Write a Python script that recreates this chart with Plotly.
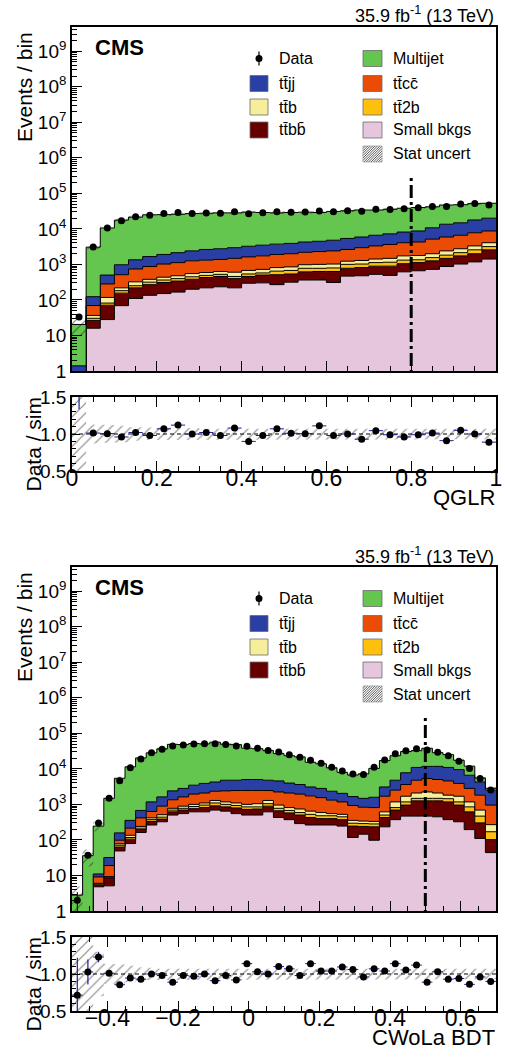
import numpy as np
import plotly.graph_objects as go

FONT = "Liberation Sans, Arial, Helvetica, sans-serif"
W, H = 505, 1057
ML, MR, MT, MB = 72, 9, 27, 46
PW, PH = W - ML - MR, H - MT - MB


def fx(px):
    return (px - ML) / PW


def fy(py):
    return (H - MB - py) / PH


# ---------------- upper figure: QGLR (30 bins, 0 .. 1) ----------------
QGLR_LO, QGLR_HI, QGLR_NBINS = 0.0, 1.0, 30
QGLR_CUT = 0.8
qglr_small = [0.3, 16, 28, 69, 110, 135, 151, 166, 200, 219, 234, 219, 295, 302, 269,
              316, 363, 363, 309, 468, 479, 525, 490, 617, 661, 724, 871, 1023, 1175, 1413]
qglr_ttbb = [0.1, 10.5, 43, 86, 109, 134, 158, 173, 181, 208, 223, 179, 162, 199, 244,
             221, 254, 268, 322, 309, 334, 367, 402, 430, 461, 535, 608, 715, 820, 1157]
qglr_tt2b = [0.05, 3.9, 10.5, 27, 32, 47, 54, 59, 67, 63, 68, 59, 80, 74, 133,
             139, 160, 145, 163, 224, 210, 231, 257, 271, 227, 290, 341, 400, 575, 592]
qglr_ttb = [0.05, 6.1, 36, 37, 72, 64, 73, 81, 103, 99, 106, 146, 139, 149, 167,
            175, 201, 224, 229, 230, 265, 291, 331, 420, 429, 446, 579, 616, 741, 912]
qglr_ttcc = [0.3, 33, 164, 294, 418, 491, 587, 643, 710, 729, 749, 876, 946, 1014, 1092,
             1144, 1211, 1291, 1376, 1400, 1663, 1898, 2152, 2336, 2488, 3134, 3489, 3853, 4451, 4636]
qglr_ttjj = [0.6, 54, 219, 464, 608, 789, 882, 1016, 1140, 1312, 1374, 1472, 1614, 1729, 1810,
             1895, 2078, 2176, 2387, 2740, 2937, 3296, 3613, 4054, 4444, 5586, 7602, 8184, 10021, 11243]
qglr_multijet = [19, 2932, 10089, 16603, 20031, 23170, 23215, 23562, 24521, 24910, 25426, 25229,
                 26274, 25373, 24465, 24950, 25244, 24373, 26114, 26990, 27992, 27273, 28236,
                 29892, 31100, 30975, 33280, 33069, 33507, 32527]
qglr_data = [33, 3095, 10643, 16877, 21808, 24333, 26878, 28784, 26920, 28091, 27616, 30434,
             26559, 28263, 30153, 29128, 29658, 32012, 30282, 32360, 31508, 35405, 35125,
             36499, 39412, 42232, 42561, 50253, 51290, 46707]
qglr_stat = [0.50, 0.13, 0.12, 0.11, 0.09, 0.08, 0.08, 0.08, 0.08, 0.07, 0.08, 0.08, 0.07, 0.08, 0.08,
             0.07, 0.08, 0.08, 0.07, 0.08, 0.08, 0.07, 0.08, 0.07, 0.08, 0.07, 0.08, 0.07, 0.08, 0.07]

# ---------------- lower figure: CWoLa BDT (40 bins, -0.5 .. 0.7) ----------------
BDT_LO, BDT_HI, BDT_NBINS = -0.5, 0.7, 40
BDT_CUT = 0.5
bdt_small = [0.05, 0.3, 4.8, 5.1, 49, 79, 162, 263, 324, 501, 550, 617, 617, 692, 646, 550, 501, 501,
             617, 427, 372, 288, 263, 263, 263, 245, 117, 145, 98, 234, 372, 468, 468, 468, 447, 372,
             324, 195, 110, 44]
bdt_ttbb = [0.05, 0.1, 0.6, 3.4, 14, 26, 33, 68, 61, 116, 142, 142, 196, 220, 205, 244, 223, 240,
            274, 234, 203, 213, 164, 135, 135, 127, 128, 95, 136, 193, 320, 487, 791, 791, 812, 803,
            631, 422, 192, 58]
bdt_tt2b = [0.02, 0.05, 0.3, 0.4, 8, 12, 19, 41, 52, 75, 84, 112, 142, 184, 149, 139, 127, 110,
            156, 115, 101, 88, 98, 81, 81, 75, 50, 48, 48, 74, 121, 220, 220, 220, 220, 270,
            220, 234, 166, 68]
bdt_ttb = [0.02, 0.05, 0.3, 0.4, 7, 18, 26, 45, 76, 84, 115, 129, 141, 192, 175, 163, 149, 196,
           241, 179, 137, 152, 121, 110, 71, 78, 60, 51, 49, 116, 362, 523, 610, 760, 610, 375,
           523, 324, 224, 99]
bdt_ttcc = [0.05, 0.2, 3.1, 9.7, 20, 79, 177, 214, 378, 573, 731, 950, 993, 1056, 1224, 1359, 1455,
            1408, 1167, 1284, 1276, 1209, 1092, 960, 768, 650, 578, 493, 482, 1081, 1337, 1933,
            2697, 3131, 2923, 2751, 2192, 1643, 1128, 686]
bdt_ttjj = [0.05, 0.2, 1.9, 13, 60, 141, 259, 544, 731, 1050, 1196, 1517, 1801, 1922, 2387, 2331,
            2557, 2557, 2331, 2332, 1892, 1681, 1352, 1269, 1026, 867, 727, 647, 772, 1392, 2274,
            4131, 6179, 6379, 6737, 6394, 5660, 3789, 2446, 1557]
bdt_multijet = [2.56, 35.1, 234, 1448, 5272, 11045, 19624, 27025, 34978, 46601, 45382, 48033,
                46610, 52034, 44514, 43114, 33188, 31988, 28314, 22329, 19419, 18069, 12210,
                11082, 8356, 5958, 5050, 5761, 8715, 14010, 18614, 23038, 21635, 26251, 16751,
                14135, 7850, 5293, 1294, 328]
bdt_data = [2, 37, 301, 1495, 4643, 10773, 18879, 28200, 35868, 43610, 47236, 49955, 50500, 51233,
            48314, 44068, 43548, 38110, 33100, 29590, 25038, 21266, 17442, 14456, 11128, 8760,
            7113, 6950, 11021, 17784, 26676, 32494, 36512, 33820, 29355, 23343, 16356, 10234,
            5338, 2556]
bdt_stat = [0.75, 0.50, 0.30, 0.14, 0.13, 0.11, 0.09, 0.08, 0.07, 0.07, 0.07, 0.07, 0.07, 0.07,
            0.07, 0.07, 0.07, 0.07, 0.07, 0.07, 0.07, 0.07, 0.07, 0.07, 0.07, 0.07, 0.07, 0.07,
            0.07, 0.07, 0.07, 0.07, 0.07, 0.07, 0.07, 0.07, 0.07, 0.07, 0.07, 0.07]

CUT_LINE_TOP = 2.7e5
LUMI_TEXT = "35.9 fb<sup>-1</sup> (13 TeV)"

C_SMALL = "#e6c6dc"
C_TTBB = "#660000"
C_TT2B = "#ffc00d"
C_TTB = "#f6ee9b"
C_TTCC = "#ea4c06"
C_TTJJ = "#2a3fa3"
C_MJ = "#65c64f"
C_RATIO = "#1c1c9c"

L_TTJJ = "tt\u0304jj"
L_TTCC = "tt\u0304cc\u0304"
L_TTB = "tt\u0304b"
L_TT2B = "tt\u03042b"
L_TTBB = "tt\u0304bb\u0304"

HATCH = dict(shape="/", fgcolor="#111111", bgcolor="rgba(0,0,0,0)", size=7, solidity=0.17)


def step_band(edges, lo_vals, hi_vals):
    xs = np.repeat(edges, 2)[1:-1]
    yu = np.repeat(hi_vals, 2)
    yd = np.repeat(lo_vals, 2)
    return (np.concatenate([xs, xs[::-1], xs[:1]]),
            np.concatenate([yu, yd[::-1], yu[:1]]))


def draw(fig, xm, ym, xr, yr, lo, hi, nbins, stack, data, stat, cut):
    edges = np.linspace(lo, hi, nbins + 1)
    centers = 0.5 * (edges[:-1] + edges[1:])
    half = 0.5 * (edges[1] - edges[0])
    data = np.asarray(data, float)
    stat = np.asarray(stat, float)
    common = dict(hoverinfo="skip", showlegend=False)
    fig.add_trace(go.Scatter(x=edges, y=np.full(nbins + 1, 1e-3), mode="lines",
                             line=dict(width=0, shape="hv"), xaxis=xm, yaxis=ym, **common))
    cum = np.zeros(nbins)
    for vals, color in stack:
        cum = cum + np.asarray(vals, float)
        fig.add_trace(go.Scatter(x=edges, y=np.append(cum, cum[-1]), mode="lines",
                                 line=dict(color="black", width=1, shape="hv"),
                                 fill="tonexty", fillcolor=color, xaxis=xm, yaxis=ym, **common))
    total = cum
    bx, by = step_band(edges, np.maximum(total * (1 - stat), 1e-3), total * (1 + stat))
    fig.add_trace(go.Scatter(x=bx, y=by, mode="lines", line=dict(width=0), fill="toself",
                             fillcolor="rgba(0,0,0,0)", fillpattern=HATCH,
                             xaxis=xm, yaxis=ym, **common))
    fig.add_trace(go.Scatter(x=[cut, cut], y=[CUT_LINE_TOP, 1e-3], mode="lines",
                             line=dict(color="black", width=3, dash="3px,4px,13px,4px"),
                             xaxis=xm, yaxis=ym, **common))
    fig.add_trace(go.Scatter(x=centers, y=data, mode="markers",
                             marker=dict(color="black", size=7),
                             error_y=dict(type="data", array=np.sqrt(data), color="black",
                                          thickness=1, width=0),
                             xaxis=xm, yaxis=ym, **common))
    # ratio panel
    ratio = data / total
    rerr = np.sqrt(data) / total
    rx, ry = step_band(edges, 1 - stat, 1 + stat)
    fig.add_trace(go.Scatter(x=rx, y=ry, mode="lines", line=dict(width=0), fill="toself",
                             fillcolor="rgba(0,0,0,0)", fillpattern=HATCH,
                             xaxis=xr, yaxis=yr, **common))
    fig.add_trace(go.Scatter(x=[lo, hi], y=[1, 1], mode="lines",
                             line=dict(color="black", width=1, dash="4px,3px"),
                             xaxis=xr, yaxis=yr, **common))
    fig.add_trace(go.Scatter(x=centers, y=ratio, mode="markers",
                             marker=dict(color="black", size=7),
                             error_x=dict(type="constant", value=half, color=C_RATIO,
                                          thickness=1, width=0),
                             error_y=dict(type="data", array=rerr, color=C_RATIO,
                                          thickness=1.2, width=0),
                             xaxis=xr, yaxis=yr, **common))


fig = go.Figure()
draw(fig, "x", "y", "x2", "y2", QGLR_LO, QGLR_HI, QGLR_NBINS,
     [(qglr_small, C_SMALL), (qglr_ttbb, C_TTBB), (qglr_tt2b, C_TT2B), (qglr_ttb, C_TTB),
      (qglr_ttcc, C_TTCC), (qglr_ttjj, C_TTJJ), (qglr_multijet, C_MJ)],
     qglr_data, qglr_stat, QGLR_CUT)
draw(fig, "x3", "y3", "x4", "y4", BDT_LO, BDT_HI, BDT_NBINS,
     [(bdt_small, C_SMALL), (bdt_ttbb, C_TTBB), (bdt_tt2b, C_TT2B), (bdt_ttb, C_TTB),
      (bdt_ttcc, C_TTCC), (bdt_ttjj, C_TTJJ), (bdt_multijet, C_MJ)],
     bdt_data, bdt_stat, BDT_CUT)

LINE = dict(showline=True, linecolor="black", linewidth=1.6, showgrid=False, zeroline=False,
            tickcolor="black", tickwidth=1, automargin=False)
log_major = [10 ** k for k in range(10)]
log_text = ["1", "10"] + ["10<sup>%d</sup>" % k for k in range(2, 10)]
log_minor = [m * 10 ** k for k in range(10) for m in range(2, 10)]


def main_x(lo, hi, anchor):
    return dict(range=[lo, hi], anchor=anchor, showticklabels=False, ticks="inside", ticklen=10,
                tick0=0, dtick=0.2, mirror=True,
                minor=dict(ticks="inside", ticklen=5, tick0=0, dtick=0.05, tickcolor="black"),
                **LINE)


def ratio_x(lo, hi, anchor):
    return dict(range=[lo, hi], anchor=anchor, showticklabels=True, ticks="inside", ticklen=10,
                tick0=0, dtick=0.2, mirror="ticks", ticklabelstandoff=-14,
                tickfont=dict(size=23, family=FONT, color="black"),
                minor=dict(ticks="inside", ticklen=5, tick0=0, dtick=0.05, tickcolor="black"),
                **LINE)


def main_y(dom, anchor):
    return dict(type="log", range=[0, 9.68], domain=dom, anchor=anchor, tickmode="array",
                tickvals=log_major, ticktext=log_text, ticks="inside", ticklen=10, mirror=True,
                tickfont=dict(size=19, family=FONT, color="black"),
                minor=dict(tickmode="array", tickvals=log_minor, ticks="inside", ticklen=5,
                           tickcolor="black"),
                **LINE)


def ratio_y(dom, anchor):
    return dict(range=[0.5, 1.5], domain=dom, anchor=anchor, tickmode="array",
                tickvals=[0.5, 1.0, 1.5], ticktext=["0.5", "1.0", "1.5"], ticks="inside",
                ticklen=8, mirror=True, tickfont=dict(size=19, family=FONT, color="black"),
                minor=dict(ticks="inside", ticklen=4, tick0=0.5, dtick=0.1, tickcolor="black"),
                **LINE)


shapes = []
annotations = []


def text(x, y, s, size, xanchor="left", yanchor="middle", angle=0, bold=False):
    annotations.append(dict(x=x, y=y, xref="paper", yref="paper", text=s, showarrow=False,
                            xanchor=xanchor, yanchor=yanchor, textangle=angle,
                            font=dict(size=size, family=FONT, color="black",
                                      weight="bold" if bold else "normal")))


def rect(x0, y0, x1, y1, color):
    shapes.append(dict(type="rect", xref="paper", yref="paper", x0=fx(x0), x1=fx(x1),
                       y0=fy(y1), y1=fy(y0), fillcolor=color,
                       line=dict(color="#6a6a6a", width=0.8), layer="above"))


def hatch_box(x0, y0, x1, y1, step=2.4):
    w, h = x1 - x0, y1 - y0
    parts = []
    c = -h
    while c < w:
        u0, u1 = max(0.0, c), min(w, c + h)
        parts.append("M %.5f %.5f L %.5f %.5f" % (fx(x0 + u0), fy(y1 - (u0 - c)),
                                                  fx(x0 + u1), fy(y1 - (u1 - c))))
        c += step
    shapes.append(dict(type="path", xref="paper", yref="paper", path=" ".join(parts),
                       line=dict(color="#333333", width=0.8), layer="above"))
    shapes.append(dict(type="rect", xref="paper", yref="paper", x0=fx(x0), x1=fx(x1),
                       y0=fy(y1), y1=fy(y0), line=dict(color="#888888", width=0.6),
                       layer="above"))


def decorate(dy, xtitle):
    text(fx(496), fy(15 + dy), LUMI_TEXT, 18, xanchor="right")
    text(fx(93), fy(47 + dy), "CMS", 22, bold=True)
    text(fx(24), fy(87 + dy), "Events / bin", 21, xanchor="center", angle=-90)
    text(fx(32.5), fy(444 + dy), "Data / sim", 21, xanchor="center", angle=-90)
    text(fx(497), fy(497 + dy), xtitle, 22, xanchor="right")
    rows = [58.5, 83.5, 107, 130, 154]
    # Data entry
    cy = rows[0] + dy
    shapes.append(dict(type="line", xref="paper", yref="paper", x0=fx(259), x1=fx(259),
                       y0=fy(cy - 7), y1=fy(cy + 7), line=dict(color="black", width=1.2),
                       layer="above"))
    shapes.append(dict(type="circle", xref="paper", yref="paper", x0=fx(255.5), x1=fx(262.5),
                       y0=fy(cy + 3.5), y1=fy(cy - 3.5), fillcolor="black",
                       line=dict(color="black", width=0), layer="above"))
    text(fx(277), fy(cy), "Data", 16)
    col1 = [(L_TTJJ, C_TTJJ), (L_TTB, C_TTB), (L_TTBB, C_TTBB)]
    for i, (lab, col) in enumerate(col1):
        cy = rows[i + 1] + dy
        rect(250, cy - 8, 268, cy + 8, col)
        text(fx(277), fy(cy), lab, 16)
    col2 = [("Multijet", C_MJ), (L_TTCC, C_TTCC), (L_TT2B, C_TT2B), ("Small bkgs", C_SMALL)]
    for i, (lab, col) in enumerate(col2):
        cy = rows[i] + dy
        rect(363, cy - 8, 382, cy + 8, col)
        text(fx(391), fy(cy), lab, 16)
    cy = rows[4] + dy
    hatch_box(363, cy - 8, 382, cy + 8)
    text(fx(391), fy(cy), "Stat uncert", 16)


decorate(0, "QGLR")
decorate(540, "CWoLa BDT")

fig.update_layout(
    width=W, height=H, margin=dict(l=ML, r=MR, t=MT, b=MB, pad=0, autoexpand=False),
    paper_bgcolor="white", plot_bgcolor="white", showlegend=False,
    font=dict(family=FONT, color="black"),
    xaxis=main_x(QGLR_LO, QGLR_HI, "y"),
    yaxis=main_y([fy(371), fy(27)], "x"),
    xaxis2=ratio_x(QGLR_LO, QGLR_HI, "y2"),
    yaxis2=ratio_y([fy(471), fy(397)], "x2"),
    xaxis3=main_x(BDT_LO, BDT_HI, "y3"),
    yaxis3=main_y([fy(911), fy(567)], "x3"),
    xaxis4=ratio_x(BDT_LO, BDT_HI, "y4"),
    yaxis4=ratio_y([max(fy(1011), 0.0), fy(937)], "x4"),
    shapes=shapes, annotations=annotations,
)

fig.write_html("out.html", config={"displayModeBar": False},
               post_script="document.body.style.margin='0px';document.body.style.padding='0px';"
                           "document.body.style.overflow='hidden';")
